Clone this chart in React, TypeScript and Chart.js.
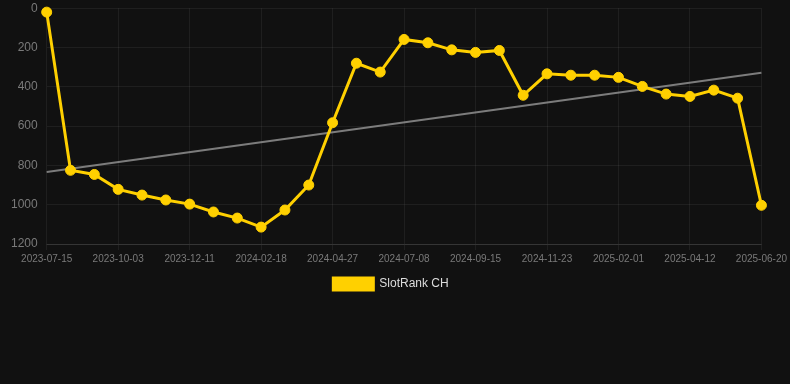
import React, { useEffect, useRef } from "react";
import { Chart, registerables } from "chart.js";

Chart.register(...registerables);

const labels: string[] = [
  "2023-07-15", "2023-08-11", "2023-09-07", "2023-10-03", "2023-10-26", "2023-11-18",
  "2023-12-11", "2024-01-03", "2024-01-26", "2024-02-18", "2024-03-12", "2024-04-04",
  "2024-04-27", "2024-05-21", "2024-06-14", "2024-07-08", "2024-07-31", "2024-08-23",
  "2024-09-15", "2024-10-08", "2024-10-31", "2024-11-23", "2024-12-16", "2025-01-08",
  "2025-02-01", "2025-02-24", "2025-03-19", "2025-04-12", "2025-05-05", "2025-05-28",
  "2025-06-20",
];

const rankValues: number[] = [
  20, 825, 846, 922, 951, 976, 997, 1037, 1068, 1114, 1027, 900,
  583, 280, 325, 159, 176, 212, 225, 215, 443, 334, 341, 341,
  352, 398, 437, 449, 417, 458, 1003,
];

const trendStart = 834;
const trendEnd = 329;

const seriesName = "SlotRank CH";

export default function App() {
  const canvasRef = useRef<HTMLCanvasElement | null>(null);

  useEffect(() => {
    if (!canvasRef.current) return;
    Chart.defaults.font.family = "'Liberation Sans', Arial, Helvetica, sans-serif";
    const chart = new Chart(canvasRef.current, {
      type: "line",
      data: {
        labels,
        datasets: [
          {
            label: seriesName,
            data: rankValues,
            borderColor: "#FFD000",
            backgroundColor: "#FFD000",
            pointBackgroundColor: "#FFD000",
            pointBorderColor: "#FFD000",
            borderWidth: 3,
            pointRadius: 5,
            pointBorderWidth: 1,
            tension: 0,
            clip: false as any,
          },
          {
            label: "trend",
            data: [
              { x: labels[0], y: trendStart },
              { x: labels[labels.length - 1], y: trendEnd },
            ] as any,
            borderColor: "rgba(160,160,160,0.75)",
            borderWidth: 2,
            pointRadius: 0,
            tension: 0,
          },
        ],
      },
      options: {
        responsive: true,
        maintainAspectRatio: false,
        animation: false,
        layout: { autoPadding: false, padding: { left: 2, right: 10 } } as any,
        plugins: {
          legend: {
            position: "bottom",
            labels: {
              color: "#dddddd",
              boxWidth: 40,
              boxHeight: 12,
              font: { size: 12 },
              filter: (item: any) => item.datasetIndex === 0,
            },
          },
          tooltip: { enabled: false },
        },
        scales: {
          x: {
            offset: false,
            grid: {
              color: "rgba(255,255,255,0.06)",
              tickLength: 6,
            },
            border: { color: "rgba(255,255,255,0.1)" },
            ticks: {
              color: "#7a7a7a",
              font: { size: 10 },
              autoSkip: false,
              maxRotation: 0,
              callback: (_v: any, i: number) => (i % 3 === 0 ? labels[i] : null),
            },
          },
          y: {
            reverse: true,
            min: 0,
            max: 1200,
            grid: {
              color: "rgba(255,255,255,0.06)",
              drawTicks: false,
            },
            border: { display: false },
            ticks: {
              color: "#7a7a7a",
              font: { size: 12 },
              stepSize: 200,
              padding: 9,
              callback: (v: any) => String(v),
            },
          },
        },
      },
    });
    return () => chart.destroy();
  }, []);

  return (
    <div style={{ position: "fixed", left: 0, top: 0, width: 790, height: 384, background: "#111111", overflow: "hidden" }}>
      <div style={{ position: "absolute", left: 0, top: -8, width: 790, height: 308 }}>
        <canvas ref={canvasRef} />
      </div>
    </div>
  );
}
